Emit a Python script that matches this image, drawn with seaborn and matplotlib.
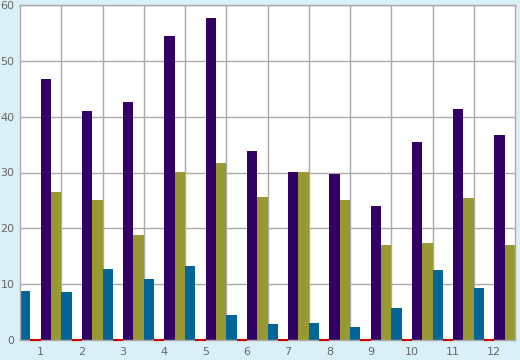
import pandas as pd
import matplotlib.pyplot as plt
import seaborn as sns

months = ["1", "2", "3", "4", "5", "6", "7", "8", "9", "10", "11", "12"]
series_names = ["A", "B", "C", "D"]
teal = [8.8, 8.6, 12.7, 10.9, 13.3, 4.5, 2.9, 3.0, 2.3, 5.7, 12.5, 9.3]
red = [0, 0, 0, 0, 0, 0, 0, 0, 0, 0, 0, 0]
purple = [46.7, 41.0, 42.6, 54.4, 57.7, 33.9, 30.1, 29.7, 24.0, 35.5, 41.4, 36.7]
olive = [26.5, 25.1, 18.8, 30.1, 31.7, 25.6, 30.1, 25.1, 17.0, 17.4, 25.4, 17.0]
colors = ["#006699", "#cc0000", "#330066", "#999933"]

rows = []
for name, vals in zip(series_names, [teal, red, purple, olive]):
    for m, v in zip(months, vals):
        rows.append({"month": m, "series": name, "value": v})
df = pd.DataFrame(rows)

sns.set_style("white")
fig = plt.figure(figsize=(5.2, 3.6), dpi=100, facecolor="#daf0f7")
ax = fig.add_axes([20 / 520, 20 / 360, 495 / 520, 335 / 360])
ax.set_facecolor("white")

sns.barplot(data=df, x="month", y="value", hue="series", order=months,
            hue_order=series_names, palette=colors, width=1.0, gap=0,
            linewidth=0, saturation=1, legend=False, ax=ax)

# zero-height red bars show as a thin line on the baseline
for bar in ax.containers[1]:
    bar.set_edgecolor("#cc0000")
    bar.set_linewidth(1.5)
    bar.set_clip_on(False)
    bar.set_zorder(4)

ax.set_xlim(-0.5, 11.5)
ax.set_ylim(0, 60)
ax.set_yticks(range(0, 61, 10))
ax.set_xticks([i + 0.5 for i in range(11)], minor=True)
ax.grid(axis="y", color="#aaaaaa", linewidth=1)
ax.grid(axis="x", which="minor", color="#aaaaaa", linewidth=1)
ax.set_axisbelow(True)
ax.tick_params(axis="x", which="major", length=0, labelsize=8, labelcolor="#666666", pad=5)
ax.tick_params(axis="x", which="minor", length=5, color="#888888", width=1)
ax.tick_params(axis="y", length=3, color="#aaaaaa", labelsize=8, labelcolor="#666666", pad=1)
for s in ax.spines.values():
    s.set_color("#aaaaaa")
    s.set_linewidth(1)
ax.set_xlabel("")
ax.set_ylabel("")

fig.savefig("out.png", dpi=100, facecolor=fig.get_facecolor())
